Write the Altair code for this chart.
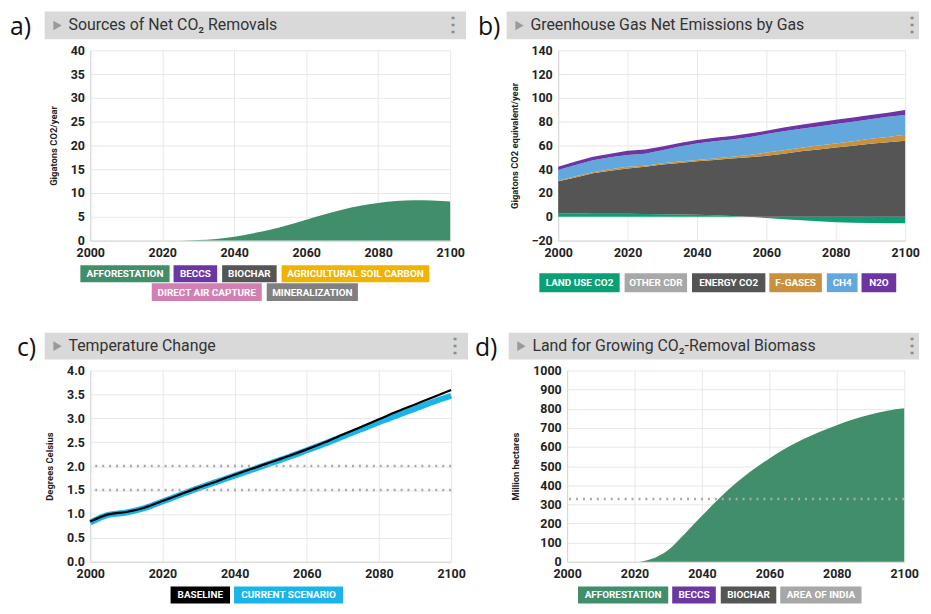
import altair as alt
import pandas as pd

# ---------------- data ----------------
YEARS = list(range(2000, 2101, 5))

# a) Sources of net CO2 removals (Gt CO2/yr)
A_CATS = ["AFFORESTATION", "BECCS", "BIOCHAR", "AGRICULTURAL SOIL CARBON",
          "DIRECT AIR CAPTURE", "MINERALIZATION"]
A_COLORS = ["#418e6b", "#6b38a3", "#555555", "#f0b400", "#d27fb2", "#808080"]
A_AFFOR = [0, 0, 0, 0, 0, 0, 0.1, 0.35, 0.8, 1.5, 2.3, 3.3, 4.4, 5.5, 6.5,
           7.3, 7.9, 8.3, 8.5, 8.45, 8.2]

# b) Greenhouse gas net emissions by gas (Gt CO2e/yr)
B_CATS = ["LAND USE CO2", "OTHER CDR", "ENERGY CO2", "F-GASES", "CH4", "N2O"]
B_COLORS = ["#0a9f74", "#a8a8a8", "#555555", "#c9913d", "#62a8dd", "#6c35a2"]
B_LAND = [3.0, 3.0, 2.6, 2.5, 2.5, 2.3, 2.2, 2.0, 1.7, 1.2, 0.6, 0.0, -1.0,
          -2.0, -3.0, -3.8, -4.5, -5.0, -5.2, -5.4, -5.5]
B_ENERGY = [26.8, 30.0, 33.9, 36.3, 38.2, 39.7, 41.8, 43.3, 44.9, 46.6, 48.4,
            50.0, 51.3, 53.0, 55.0, 56.6, 58.3, 59.8, 61.3, 62.7, 64.0]
B_FGAS = [0.6, 1.0, 1.0, 1.2, 1.4, 1.0, 1.0, 1.2, 1.1, 1.2, 1.5, 2.0, 2.7,
          3.0, 3.0, 3.4, 3.4, 3.7, 4.2, 4.3, 5.0]
B_CH4 = [8.9, 9.5, 10.0, 10.0, 9.9, 10.0, 11.0, 12.5, 14.0, 14.5, 14.5, 14.8,
         15.5, 16.0, 16.0, 16.0, 16.3, 16.5, 16.5, 17.0, 16.5]
B_N2O = [2.7, 3.0, 3.0, 3.0, 3.5, 3.5, 3.0, 3.0, 2.8, 3.0, 3.0, 3.2, 2.8,
         3.0, 3.4, 3.5, 3.6, 3.5, 3.5, 3.5, 4.2]

# c) Temperature change (deg C)
C_CATS = ["BASELINE", "CURRENT SCENARIO"]
C_COLORS = ["#000000", "#1ab4ea"]
C_BASE = [0.84, 0.99, 1.04, 1.13, 1.27, 1.41, 1.55, 1.68, 1.82, 1.95, 2.08,
          2.21, 2.35, 2.50, 2.66, 2.82, 2.98, 3.14, 3.29, 3.44, 3.59]
C_CURR = [0.82, 0.98, 1.03, 1.12, 1.26, 1.40, 1.54, 1.67, 1.80, 1.93, 2.06,
          2.19, 2.33, 2.47, 2.62, 2.77, 2.92, 3.06, 3.20, 3.34, 3.47]
C_LIMITS = [1.5, 2.0]

# d) Land for growing CO2-removal biomass (million ha)
D_CATS = ["AFFORESTATION", "BECCS", "BIOCHAR", "AREA OF INDIA"]
D_COLORS = ["#418e6b", "#6b38a3", "#555555", "#a8a8a8"]
D_AFFOR = [0, 0, 0, 0, 0, 15, 62, 148, 240, 330, 410, 480, 540, 595, 640,
           680, 714, 745, 770, 790, 803]
D_INDIA = [328]

FONT = "Roboto"
X_TICKS = list(range(2000, 2101, 20))


def one():
    return pd.DataFrame({"k": [0]})


def rect(x1, x2, y1, y2, color):
    return alt.Chart(one()).mark_rect(color=color).encode(
        x=alt.value(x1), x2=alt.value(x2), y=alt.value(y1), y2=alt.value(y2))


def text(x, y, s, size, color, weight="normal", align="left", font=FONT):
    return alt.Chart(one()).mark_text(
        text=s, align=align, baseline="middle", fontSize=size, font=font,
        fontWeight=weight, color=color).encode(x=alt.value(x), y=alt.value(y))


def header(tag, tag_x, title, x0, x1, tri_x, title_x, dots_x, y0, y1):
    yc = (y0 + y1) / 2
    tri = alt.Chart(one()).mark_point(
        shape="triangle-right", filled=True, color="#9a9a9a", opacity=1, size=95
    ).encode(x=alt.value(tri_x), y=alt.value(yc))
    return [
        rect(x0, x1, y0, y1, "#d9d9d9"),
        tri,
        text(title_x, yc, title, 16, "#333333"),
        text(dots_x, yc, "\u22ee", 20, "#8a8a8a", weight="bold", align="center"),
        text(tag_x, yc + 2, tag, 25, "#111111", font="Open Sans"),
    ]


def chips(labels, colors, spans, y1, y2):
    out = []
    for lab, col, (a, b) in zip(labels, colors, spans):
        out.append(rect(a, b, y1, y2, col))
        out.append(text((a + b) / 2, (y1 + y2) / 2 + 0.5, lab, 10, "white",
                        weight="bold", align="center"))
    return out


def xenc():
    return alt.X("year:Q", scale=alt.Scale(domain=[2000, 2100], nice=False),
                 axis=alt.Axis(values=X_TICKS, format="d", title=None, labelPadding=6))


def yenc(lo, hi, ticks, title, fmt="d"):
    return alt.Y("value:Q", scale=alt.Scale(domain=[lo, hi], nice=False),
                 axis=alt.Axis(values=ticks, format=fmt, title=title))


# ---------------- panel a ----------------
WA, HA = 363, 192
dfa = pd.DataFrame({"year": YEARS, "value": A_AFFOR})
area_a = alt.Chart(dfa).mark_area(color=A_COLORS[0], interpolate="monotone").encode(
    x=xenc(), y=yenc(0, 40, list(range(0, 41, 5)), "Gigatons CO2/year"))
panel_a = alt.layer(
    area_a,
    *header("a)", -81, "Sources of Net CO\u2082 Removals", -46, 379, -33, -22, 366, -39, -11),
    *chips(A_CATS[:4], A_COLORS[:4], [(-10, 80), (84, 128), (133, 188), (193, 342)], 217, 234),
    *chips(A_CATS[4:], A_COLORS[4:], [(62, 173), (178, 270)], 235, 253),
).properties(width=WA, height=HA)

# ---------------- panel b ----------------
WB, HB = 350, 192
rows = []
for name, arr, order in [("LAND USE CO2", B_LAND, 0), ("ENERGY CO2", B_ENERGY, 2),
                         ("F-GASES", B_FGAS, 3), ("CH4", B_CH4, 4), ("N2O", B_N2O, 5)]:
    for yr, v in zip(YEARS, arr):
        rows.append({"year": yr, "gas": name, "value": v, "ord": order})
dfb = pd.DataFrame(rows)
yb = alt.Y("value:Q", stack="zero", scale=alt.Scale(domain=[-20, 140], nice=False),
           axis=alt.Axis(values=list(range(-20, 141, 20)), format="d",
                         title="Gigatons CO2 equivalent/year"))
area_b = alt.Chart(dfb).mark_area(interpolate="linear").encode(
    x=xenc(), y=yb,
    color=alt.Color("gas:N", scale=alt.Scale(domain=B_CATS, range=B_COLORS), legend=None),
    order=alt.Order("ord:Q"),
)
panel_b = alt.layer(
    area_b,
    *header("b)", -81, "Greenhouse Gas Net Emissions by Gas", -52, 364, -39, -28, 357, -39, -11),
    *chips(B_CATS, B_COLORS, [(-19, 62), (67, 130), (135, 209), (213, 266), (271, 302), (306, 341)], 225, 244),
).properties(width=WB, height=HB)

# ---------------- panel c ----------------
WC, HC = 364, 193
C_TICKS = [i / 2 for i in range(9)]
dfc = pd.DataFrame({"year": YEARS * 2, "series": ["BASELINE"] * 21 + ["CURRENT SCENARIO"] * 21,
                    "value": C_BASE + C_CURR})
line_curr = alt.Chart(dfc).transform_filter(alt.datum.series == "CURRENT SCENARIO").mark_line(
    color=C_COLORS[1], strokeWidth=6, interpolate="monotone").encode(
    x=xenc(), y=yenc(0, 4, C_TICKS, "Degrees Celsius", ".1f"))
line_base = alt.Chart(dfc).transform_filter(alt.datum.series == "BASELINE").mark_line(
    color=C_COLORS[0], strokeWidth=2.2, interpolate="monotone").encode(
    x=xenc(), y=yenc(0, 4, C_TICKS, "Degrees Celsius", ".1f"))
limits = alt.Chart(pd.DataFrame({"value": C_LIMITS})).mark_rule(
    color="#aaaaaa", strokeWidth=2.5, strokeDash=[2, 5]).encode(
    y=yenc(0, 4, C_TICKS, "Degrees Celsius", ".1f"))
panel_c = alt.layer(
    line_curr, limits, line_base,
    *header("c)", -74, "Temperature Change", -46, 381, -33, -22, 368, -38, -11),
    *chips(C_CATS, C_COLORS, [(81, 141), (145, 255)], 218, 235),
).properties(width=WC, height=HC)

# ---------------- panel d ----------------
WD, HD = 340, 193
D_TICKS = list(range(0, 1001, 100))
dfd = pd.DataFrame({"year": YEARS, "value": D_AFFOR})
area_d = alt.Chart(dfd).mark_area(color=D_COLORS[0], interpolate="monotone").encode(
    x=xenc(), y=yenc(0, 1000, D_TICKS, "Million hectares"))
india = alt.Chart(pd.DataFrame({"value": D_INDIA})).mark_rule(
    color="#aaaaaa", strokeWidth=2.5, strokeDash=[2, 5]).encode(
    y=yenc(0, 1000, D_TICKS, "Million hectares"))
panel_d = alt.layer(
    area_d, india,
    *header("d)", -93, "Land for Growing CO\u2082-Removal Biomass", -59, 355, -46, -35, 348, -38, -11),
    *chips(D_CATS, D_COLORS, [(11, 102), (106, 150), (155, 211), (215, 297)], 218, 235),
).properties(width=WD, height=HD)

row1 = alt.hconcat(panel_a, panel_b, spacing=10)
row2 = alt.hconcat(panel_c, panel_d, spacing=5)

chart = alt.vconcat(row1, row2, spacing=30).properties(
    padding={"left": 1, "top": 0, "right": 0, "bottom": 0},
    background="white",
).configure_view(stroke="transparent").configure_axis(
    labelFont=FONT, labelFontWeight="bold", labelFontSize=12.5, labelColor="#222222",
    titleFont=FONT, titleFontWeight="bold", titleFontSize=9.5, titleColor="#222222",
    titlePadding=12, gridColor="#e8e8e8", domainColor="#d6d6d6", ticks=False,
    tickSize=0, labelPadding=6, labelFlush=False, labelOverlap=False,
)

chart.save("out.html", embed_options={"renderer": "svg", "actions": False})
